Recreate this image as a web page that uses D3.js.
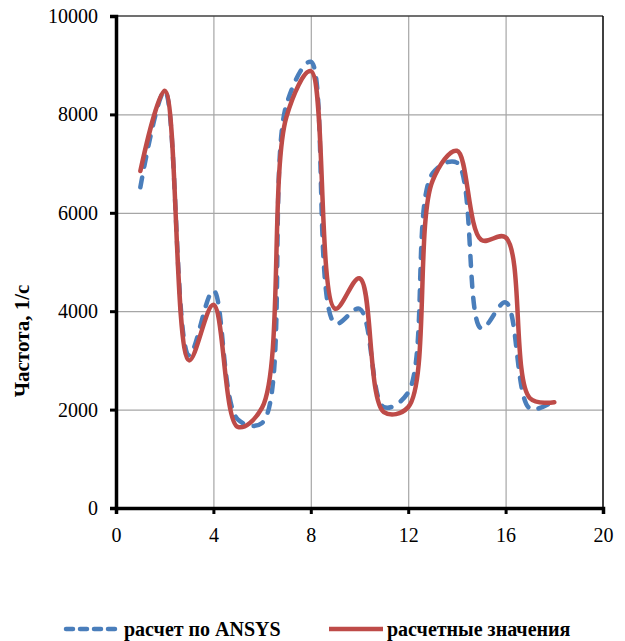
<!DOCTYPE html>
<html>
<head>
<meta charset="utf-8">
<script src="https://cdn.jsdelivr.net/npm/d3@7"></script>
<style>
  body { margin: 0; background: #fff; }
  svg text { font-family: "Liberation Serif", "Times New Roman", serif; fill: #000; }
</style>
</head>
<body>
<svg id="chart" width="625" height="641"></svg>
<script>
// chart data
const xs = [1, 2, 3, 4, 5, 6, 7, 8, 9, 10, 11, 12, 13, 14, 15, 16, 17, 18];
const ansys = [6520, 8480, 3100, 4420, 1800, 1730, 8200, 9070, 3750, 4050, 2050, 2350, 6800, 7020, 3650, 4180, 2020, 2180];
const calc = [6850, 8480, 3000, 4130, 1650, 2040, 7950, 8880, 4050, 4670, 1950, 2050, 6650, 7260, 5450, 5500, 2230, 2150];
const xTicks = [0, 4, 8, 12, 16, 20];
const yTicks = [0, 2000, 4000, 6000, 8000, 10000];
const yTitle = "Частота, 1/с";
const seriesNames = ["расчет по ANSYS", "расчетные значения"];

const svg = d3.select("#chart");
const pLeft = 116, pRight = 603, pTop = 16, pBottom = 508;

const x = d3.scaleLinear().domain([0, 20]).range([pLeft, pRight]);
const y = d3.scaleLinear().domain([0, 10000]).range([pBottom, pTop]);

// gridlines
svg.append("g")
  .attr("transform", `translate(0,${pBottom})`)
  .call(d3.axisBottom(x).tickValues(xTicks.slice(1, -1)).tickSize(-(pBottom - pTop)).tickFormat(""))
  .call(g => g.select(".domain").remove())
  .call(g => g.selectAll("line").attr("stroke", "#a6a6a6").attr("stroke-width", 1.2));

svg.append("g")
  .attr("transform", `translate(${pLeft},0)`)
  .call(d3.axisLeft(y).tickValues(yTicks.slice(1, -1)).tickSize(-(pRight - pLeft)).tickFormat(""))
  .call(g => g.select(".domain").remove())
  .call(g => g.selectAll("line").attr("stroke", "#a6a6a6").attr("stroke-width", 1.2));

// top and right border
svg.append("line").attr("x1", pLeft).attr("x2", pRight).attr("y1", pTop).attr("y2", pTop)
  .attr("stroke", "#404040").attr("stroke-width", 1.5);
svg.append("line").attr("x1", pRight).attr("x2", pRight).attr("y1", pTop).attr("y2", pBottom)
  .attr("stroke", "#000").attr("stroke-width", 1.5);

// data lines
const line = d3.line()
  .x((d, i) => x(xs[i]))
  .y(d => y(d))
  .curve(d3.curveCatmullRom.alpha(0.5));

svg.append("path")
  .datum(ansys)
  .attr("fill", "none")
  .attr("stroke", "#4a7ebb")
  .attr("stroke-width", 4.5)
  .attr("stroke-linecap", "round")
  .attr("stroke-dasharray", "10,11")
  .attr("d", line);

svg.append("path")
  .datum(calc)
  .attr("fill", "none")
  .attr("stroke", "#be4b48")
  .attr("stroke-width", 4.5)
  .attr("stroke-linecap", "round")
  .attr("stroke-linejoin", "round")
  .attr("d", line);

// axes
const yAxis = svg.append("g")
  .attr("transform", `translate(${pLeft},0)`)
  .call(d3.axisLeft(y).tickValues(yTicks).tickSize(6).tickPadding(12).tickFormat(d3.format("d")));
const xAxis = svg.append("g")
  .attr("transform", `translate(0,${pBottom})`)
  .call(d3.axisBottom(x).tickValues(xTicks).tickSize(6).tickPadding(14).tickFormat(d3.format("d")));

[yAxis, xAxis].forEach(g => {
  g.select(".domain").attr("stroke", "#000").attr("stroke-width", 3.5);
  g.selectAll(".tick line").attr("stroke", "#000").attr("stroke-width", 3);
  g.selectAll(".tick text").attr("font-size", 20).attr("font-family", "Liberation Serif");
});

// y title
svg.append("text")
  .attr("transform", `translate(29,${(pTop + pBottom) / 2 + 79}) rotate(-90)`)
  .attr("text-anchor", "middle")
  .attr("font-size", 21)
  .attr("font-weight", "bold")
  .text(yTitle);

// legend
const legend = svg.append("g");
legend.append("line").attr("x1", 66).attr("x2", 118).attr("y1", 629).attr("y2", 629)
  .attr("stroke", "#4a7ebb").attr("stroke-width", 4.5).attr("stroke-linecap", "round")
  .attr("stroke-dasharray", "7,7");
legend.append("text").attr("x", 124).attr("y", 636)
  .attr("font-size", 20).attr("font-weight", "bold").text(seriesNames[0]);
legend.append("line").attr("x1", 329).attr("x2", 383).attr("y1", 629).attr("y2", 629)
  .attr("stroke", "#be4b48").attr("stroke-width", 4.5);
legend.append("text").attr("x", 387).attr("y", 636)
  .attr("font-size", 20).attr("font-weight", "bold").text(seriesNames[1]);
</script>
</body>
</html>
